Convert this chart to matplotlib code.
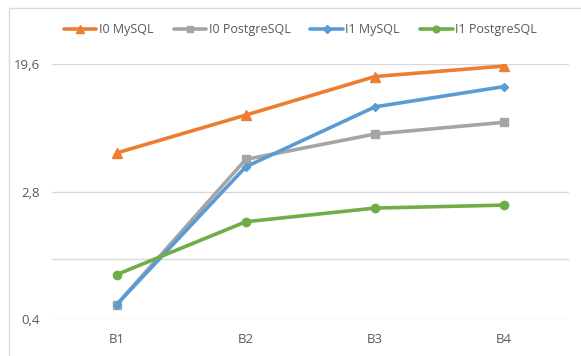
import matplotlib
matplotlib.use("Agg")
import matplotlib.pyplot as plt
from matplotlib.patches import Rectangle

# values (log axis, base 7)
categories = ["B1", "B2", "B3", "B4"]
i0_mysql = [5.05, 9.0, 16.2, 19.0]
i0_postgres = [0.50, 4.58, 6.74, 8.06]
i1_mysql = [0.50, 4.09, 10.2, 13.9]
i1_postgres = [0.79, 1.77, 2.18, 2.28]

y_ticks = [0.4, 2.8, 19.6]
y_tick_labels = ["0,4", "2,8", "19,6"]

plt.rcParams['font.family'] = ['Open Sans', 'DejaVu Sans']

fig = plt.figure(figsize=(5.81, 3.56), dpi=100)
ax = fig.add_axes([0.0895, 0.1031, 0.8895, 0.7171])

grid_col = "#d9d9d9"
text_col = "#595959"

x = range(len(categories))
series = [
    ("I0 MySQL", i0_mysql, "#ed7d31", "^", 6.5),
    ("I0 PostgreSQL", i0_postgres, "#a5a5a5", "s", 6),
    ("I1 MySQL", i1_mysql, "#5b9bd5", "D", 4.5),
    ("I1 PostgreSQL", i1_postgres, "#70ad47", "o", 6),
]
for label, vals, col, mk, ms in series:
    ax.plot(x, vals, color=col, marker=mk, markersize=ms, linewidth=2.6,
            label=label, solid_capstyle="round", zorder=3)

ax.set_yscale("log")
ax.set_ylim(0.4, 19.6)
ax.set_xlim(-0.5, len(categories) - 0.5)
ax.minorticks_off()
ax.set_yticks(y_ticks)
ax.set_yticklabels(y_tick_labels)
ax.set_xticks(list(x))
ax.set_xticklabels(categories)
ax.tick_params(length=0, colors=text_col, labelsize=9.5)
ax.tick_params(axis="y", pad=9)
ax.tick_params(axis="x", pad=10)

for v in y_ticks:
    ax.axhline(v, color=grid_col, linewidth=1, zorder=1)
# horizontal axis crosses at 1 (Excel log-axis default)
ax.axhline(1, color=grid_col, linewidth=1, zorder=1)

for s in ax.spines.values():
    s.set_visible(False)

fig.legend(loc="center", bbox_to_anchor=(0.517, 0.916), ncol=4,
           frameon=False, fontsize=9, labelcolor=text_col, markerscale=0.8,
           handlelength=2.6, handletextpad=0.2, columnspacing=1.6)

fig.patches.append(Rectangle((9 / 581, -0.01), 1.0, 1 - 8 / 356 + 0.01,
                             transform=fig.transFigure, fill=False,
                             edgecolor=grid_col, linewidth=1))

fig.savefig("out.png", dpi=100)
